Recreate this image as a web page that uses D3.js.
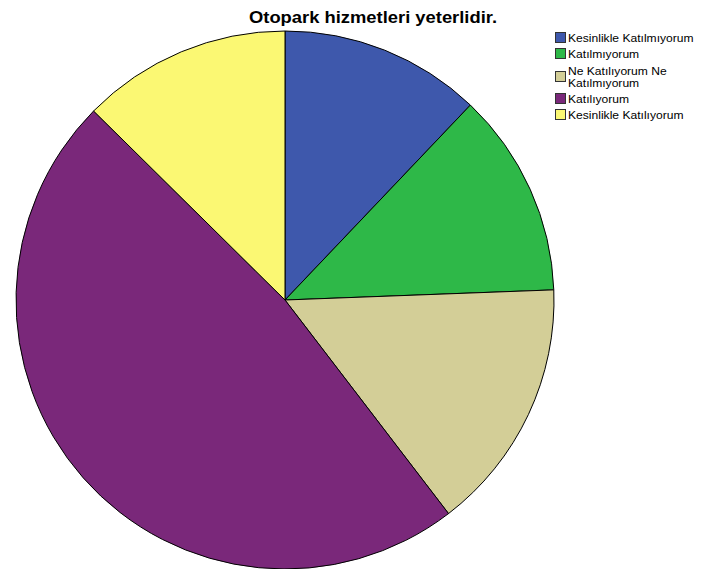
<!DOCTYPE html>
<html><head><meta charset="utf-8">
<script src="https://cdn.jsdelivr.net/npm/d3@7"></script>
<style>body{margin:0;background:#fff;}svg{display:block;}</style>
</head><body>
<script>
const title = "Otopark hizmetleri yeterlidir.";
const categories = ["Kesinlikle Katılmıyorum","Katılmıyorum","Ne Katılıyorum Ne Katılmıyorum","Katılıyorum","Kesinlikle Katılıyorum"];
const legendLines = [["Kesinlikle Katılmıyorum"],["Katılmıyorum"],["Ne Katılıyorum Ne","Katılmıyorum"],["Katılıyorum"],["Kesinlikle Katılıyorum"]];
const values = [12.1, 12.3, 15.2, 47.8, 12.6];
const colors = ["#3e58ac","#2eb848","#d3ce97","#7a287a","#fbf873"];

const W=712,H=569;
const svg=d3.select("body").append("svg").attr("width",W).attr("height",H);
svg.append("text").attr("x",249).attr("y",23)
  .attr("font-family","Liberation Sans, Arial, sans-serif").attr("font-weight","bold")
  .attr("font-size",17).attr("textLength",248).attr("lengthAdjust","spacingAndGlyphs").text(title);

const cx=285, cy=300, r=269;
const pie=d3.pie().sort(null).value(d=>d);
const arc=d3.arc().innerRadius(0).outerRadius(r);
const g=svg.append("g").attr("transform",`translate(${cx},${cy})`);
g.selectAll("path").data(pie(values)).join("path")
  .attr("d",arc).attr("fill",(d,i)=>colors[i])
  .attr("stroke","#000").attr("stroke-width",1).attr("stroke-linejoin","round");

const rowY=[38,54,77,99,115];
const lg=svg.append("g");
const tg=svg.append("g").attr("transform","translate(568,0) scale(1.1,1)")
  .attr("font-family","Liberation Sans, Arial, sans-serif").attr("font-size",11);
legendLines.forEach((lines,i)=>{
  lg.append("rect").attr("x",555.5).attr("y",rowY[i]-5.5).attr("width",10).attr("height",10)
    .attr("fill",colors[i]).attr("stroke","#333").attr("stroke-width",1);
  lines.forEach((l,j)=>{
    tg.append("text").attr("x",0).attr("y",rowY[i]+4 + (lines.length>1?(j?6.5:-6.3):0))
      .attr("fill","#000").text(l);
  });
});
</script>
</body></html>
